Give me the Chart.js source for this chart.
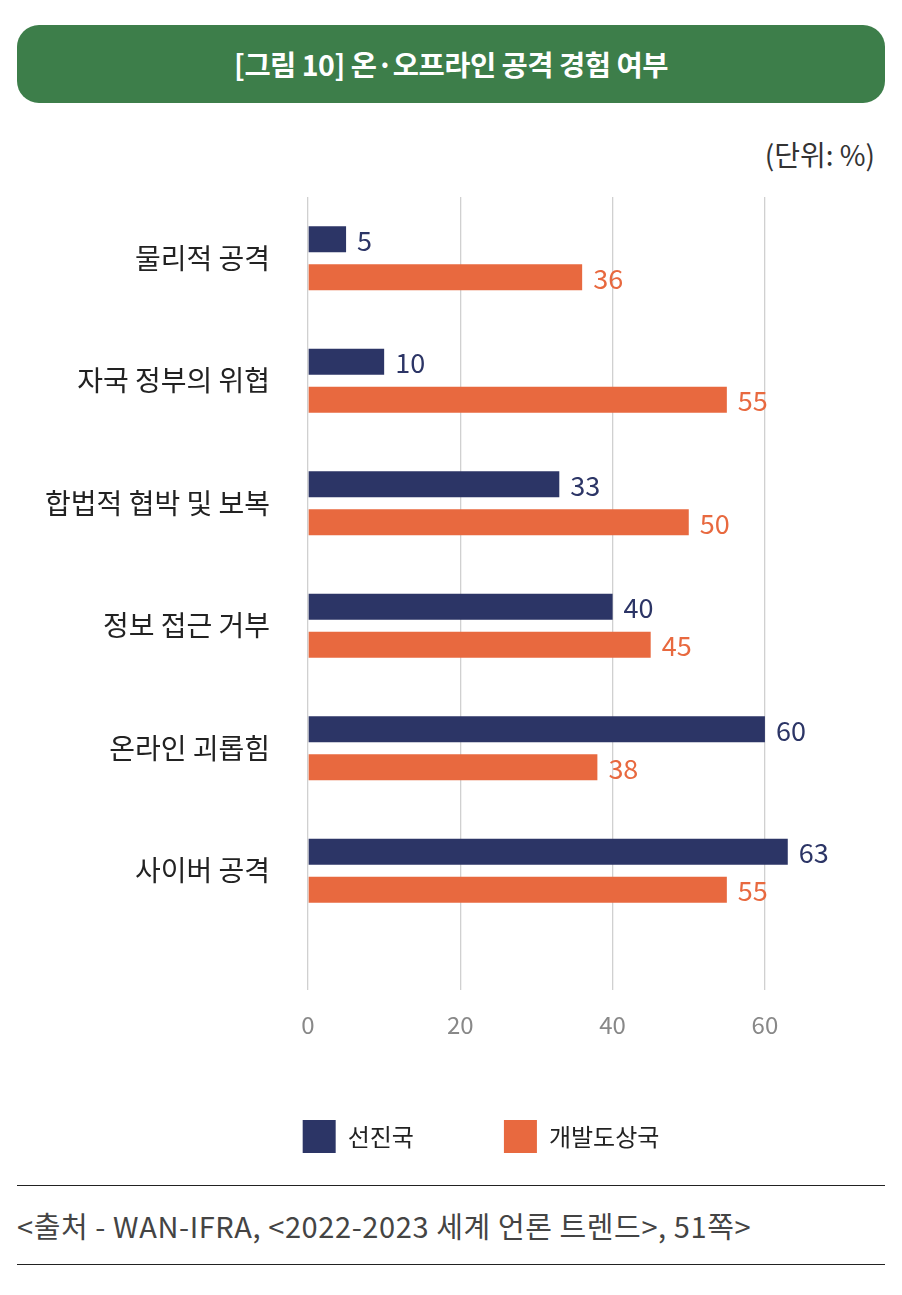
<!DOCTYPE html>
<html><head><meta charset="utf-8">
<script src="https://cdn.jsdelivr.net/npm/chart.js@4"></script>
<style>
html,body{margin:0;padding:0;background:#fff;}
body{width:902px;height:1295px;position:relative;overflow:hidden;font-family:"Noto Sans CJK KR","Noto Sans",sans-serif;}
#banner{position:absolute;left:17px;top:25px;width:868px;height:78px;background:#3d7e4a;border-radius:22px;color:#fff;font-weight:700;font-size:28.5px;line-height:78px;text-align:center;letter-spacing:-0.5px;}
#unit{position:absolute;right:27px;top:134px;font-size:28px;color:#333;line-height:40px;}
#wrap{position:absolute;left:0;top:180px;width:902px;height:1000px;}
.hl{position:absolute;left:17px;width:868px;height:0;border-top:1.5px solid #222;}
#src{position:absolute;left:17px;top:1204px;font-size:29px;color:#444;line-height:42px;letter-spacing:0.6px;}
</style></head>
<body>
<div id="banner">[그림 10] 온·오프라인 공격 경험 여부</div>
<div id="unit">(단위: %)</div>
<div id="wrap"><canvas id="c"></canvas></div>
<div class="hl" style="top:1185px"></div>
<div id="src">&lt;출처 - WAN-IFRA, &lt;2022-2023 세계 언론 트렌드&gt;, 51쪽&gt;</div>
<div class="hl" style="top:1264px"></div>
<script>
const categories = ["물리적 공격","자국 정부의 위협","합법적 협박 및 보복","정보 접근 거부","온라인 괴롭힘","사이버 공격"];
const seriesNames = ["선진국","개발도상국"];
const developed = [5,10,33,40,60,63];
const developing = [36,55,50,45,38,55];
const xTicks = [0,20,40,60];
const colors = ["#2c3566","#e8693f"];
const FONT = '"Noto Sans CJK KR","Noto Sans",sans-serif';

const noLabelClip = {
  id:'noLabelClip',
  beforeDraw(chart){
    Object.values(chart.scales).forEach(s=>{ s._computeLabelArea = ()=>undefined; });
  }
};

const valueLabels = {
  id:'valueLabels',
  afterDatasetsDraw(chart){
    const ctx = chart.ctx;
    ctx.save();
    ctx.font = '27px ' + FONT;
    ctx.textBaseline = 'middle';
    ctx.textAlign = 'left';
    chart.data.datasets.forEach((ds,i)=>{
      const meta = chart.getDatasetMeta(i);
      ctx.fillStyle = colors[i];
      meta.data.forEach((bar,j)=>{
        ctx.fillText(String(ds.data[j]), bar.x + 11, bar.y + 1);
      });
    });
    ctx.restore();
  }
};

new Chart(document.getElementById('c'), {
  type:'bar',
  data:{
    labels:categories,
    datasets:[
      {label:seriesNames[0], data:developed, backgroundColor:colors[0], categoryPercentage:0.62, barPercentage:0.684},
      {label:seriesNames[1], data:developing, backgroundColor:colors[1], categoryPercentage:0.62, barPercentage:0.684}
    ]
  },
  options:{
    indexAxis:'y',
    responsive:true,
    maintainAspectRatio:false,
    animation:false,
    layout:{padding:{top:17,right:0,left:60,bottom:17}},
    scales:{
      x:{
        min:0,max:78,
        afterBuildTicks(scale){ scale.ticks = xTicks.map(v=>({value:v})); },
        afterFit(scale){ scale.height = 98; },
        grid:{color:'#d0d0d0',lineWidth:1.3,tickLength:58,drawTicks:true},
        border:{display:false},
        ticks:{color:'#888',font:{size:24,family:FONT},padding:20}
      },
      y:{
        afterFit(scale){ scale.width = 248; },
        grid:{display:true,color:'rgba(0,0,0,0)',drawTicks:true,tickLength:38},
        border:{display:false},
        ticks:{color:'#222',font:{size:28,family:FONT},padding:0}
      }
    },
    plugins:{
      legend:{
        position:'bottom',
        labels:{boxWidth:33,boxHeight:33,padding:90,color:'#222',font:{size:24,family:FONT}}
      },
      tooltip:{enabled:false}
    }
  },
  plugins:[noLabelClip, valueLabels]
});
</script>
</body></html>
